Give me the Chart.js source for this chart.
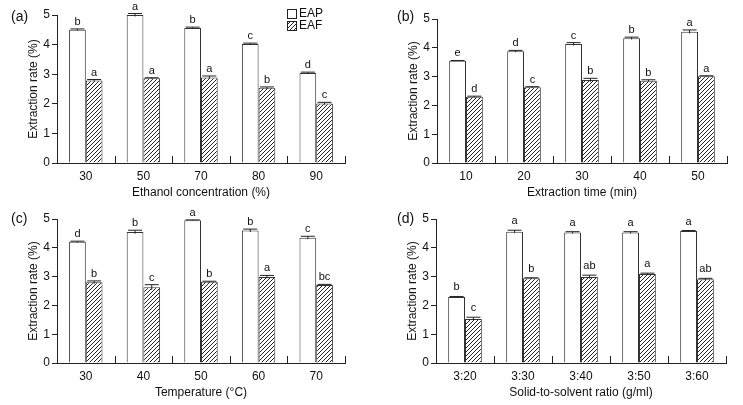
<!DOCTYPE html>
<html>
<head>
<meta charset="utf-8" />
<title>Extraction rate panels</title>
<script src="https://cdn.jsdelivr.net/npm/chart.js"></script>
<style>
  body { margin: 0; background: #fff; }
  #wrap { position: relative; width: 743px; height: 405px; font-family: "Liberation Sans", Arial, sans-serif; }
  #wrap canvas { position: absolute; }
  .tag { position: absolute; font-size: 14px; color: #111; line-height: 14px; }
</style>
</head>
<body>
<div id="wrap">
  <canvas id="pa" width="370" height="200" style="left:0;top:0"></canvas>
  <canvas id="pb" width="373" height="200" style="left:370px;top:0"></canvas>
  <canvas id="pc" width="370" height="205" style="left:0;top:200px"></canvas>
  <canvas id="pd" width="373" height="205" style="left:370px;top:200px"></canvas>
  <div class="tag" style="left:11px;top:9px">(a)</div>
  <div class="tag" style="left:397px;top:9px">(b)</div>
  <div class="tag" style="left:11px;top:211px">(c)</div>
  <div class="tag" style="left:397px;top:211px">(d)</div>
</div>
<script>
// (a) ethanol concentration
const catsA = ["30", "50", "70", "80", "90"];
const eapA = [4.50, 5.00, 4.56, 4.02, 3.04];
const eafA = [2.79, 2.86, 2.89, 2.54, 2.01];
const eapErrA = [0.03, 0.05, 0.03, 0.03, 0.03];
const eafErrA = [0.03, 0.02, 0.05, 0.03, 0.04];
const eapLetA = ["b", "a", "b", "c", "d"];
const eafLetA = ["a", "a", "a", "b", "c"];

// (b) extraction time
const catsB = ["10", "20", "30", "40", "50"];
const eapB = [3.55, 3.88, 4.13, 4.33, 4.56];
const eafB = [2.30, 2.63, 2.88, 2.86, 3.01];
const eapErrB = [0.01, 0.03, 0.05, 0.04, 0.06];
const eafErrB = [0.02, 0.02, 0.06, 0.03, 0.02];
const eapLetB = ["e", "d", "c", "b", "a"];
const eafLetB = ["d", "c", "b", "b", "a"];

// (c) temperature
const catsC = ["30", "40", "50", "60", "70"];
const eapC = [4.21, 4.55, 4.96, 4.60, 4.35];
const eafC = [2.80, 2.63, 2.82, 2.99, 2.71];
const eapErrC = [0.02, 0.06, 0.01, 0.05, 0.05];
const eafErrC = [0.05, 0.09, 0.02, 0.05, 0.02];
const eapLetC = ["d", "b", "a", "b", "c"];
const eafLetC = ["b", "c", "b", "a", "bc"];

// (d) solid-to-solvent ratio
const catsD = ["3:20", "3:30", "3:40", "3:50", "3:60"];
const eapD = [2.29, 4.56, 4.53, 4.53, 4.58];
const eafD = [1.53, 2.94, 2.99, 3.09, 2.91];
const eapErrD = [0.02, 0.05, 0.03, 0.03, 0.02];
const eafErrD = [0.06, 0.02, 0.06, 0.03, 0.03];
const eapLetD = ["b", "a", "a", "a", "a"];
const eafLetD = ["c", "b", "ab", "a", "ab"];

const yTicks = [0, 1, 2, 3, 4, 5];
const seriesNames = ["EAP", "EAF"];

const FONT = '"Liberation Sans", Arial, sans-serif';
const INK = "#111";

// hatch fill for EAF bars
function makeHatch() {
  const s = 4;
  const t = document.createElement("canvas");
  t.width = s; t.height = s;
  const g = t.getContext("2d");
  g.fillStyle = "#fff";
  g.fillRect(0, 0, s, s);
  g.strokeStyle = "#222";
  g.lineWidth = 1;
  g.beginPath();
  g.moveTo(-1, s + 1); g.lineTo(s + 1, -1);
  g.moveTo(-1, 1); g.lineTo(1, -1);
  g.moveTo(s - 1, s + 1); g.lineTo(s + 1, s - 1);
  g.stroke();
  return g.createPattern(t, "repeat");
}
const hatch = makeHatch();

// error bars + significance letters
const marksPlugin = {
  id: "marks",
  afterDatasetsDraw(chart) {
    const ctx = chart.ctx;
    const ys = chart.scales.y;
    const o = chart.options.plugins.marks;
    ctx.save();
    chart.data.datasets.forEach((ds, di) => {
      const meta = chart.getDatasetMeta(di);
      meta.data.forEach((bar, i) => {
        const v = ds.data[i], e = o.err[di][i];
        const yt = ys.getPixelForValue(v + e);
        const yb = ys.getPixelForValue(v - e);
        ctx.strokeStyle = "#222";
        ctx.lineWidth = 1;
        ctx.beginPath();
        ctx.moveTo(bar.x, yt); ctx.lineTo(bar.x, yb);
        ctx.moveTo(bar.x - 7, yt); ctx.lineTo(bar.x + 7, yt);
        ctx.stroke();
        ctx.fillStyle = INK;
        ctx.font = "11px " + FONT;
        ctx.textAlign = "center";
        ctx.textBaseline = "alphabetic";
        ctx.fillText(o.letters[di][i], bar.x, yt - o.gap);
      });
    });
    ctx.restore();
  }
};

// upward tick marks between categories on the x axis
const xTickPlugin = {
  id: "xticks",
  afterDraw(chart) {
    const xs = chart.scales.x, ctx = chart.ctx;
    const n = chart.data.labels.length;
    const half = (xs.getPixelForValue(1) - xs.getPixelForValue(0)) / 2;
    const y0 = chart.chartArea.bottom;
    ctx.save();
    ctx.strokeStyle = "#222";
    ctx.lineWidth = 1;
    ctx.beginPath();
    for (let i = 0; i < n; i++) {
      const x = Math.round(xs.getPixelForValue(i) + half) + 0.5;
      ctx.moveTo(x, y0); ctx.lineTo(x, y0 - 7);
    }
    ctx.stroke();
    ctx.restore();
  }
};

// legend drawn only in panel (a)
const legendPlugin = {
  id: "boxlegend",
  afterDraw(chart) {
    const o = chart.options.plugins.boxlegend;
    if (!o.show) return;
    const ctx = chart.ctx;
    const x = chart.chartArea.right - 58;
    ctx.save();
    chart.data.datasets.forEach((ds, i) => {
      const y = chart.chartArea.top - 6 + i * 12;
      ctx.fillStyle = ds.backgroundColor;
      ctx.fillRect(x, y, 9, 9);
      ctx.strokeStyle = "#222";
      ctx.lineWidth = 1;
      ctx.strokeRect(x + 0.5, y + 0.5, 9, 9);
      ctx.fillStyle = INK;
      ctx.font = "12px " + FONT;
      ctx.textAlign = "left";
      ctx.textBaseline = "middle";
      ctx.fillText(ds.label, x + 12, y + 5);
    });
    ctx.restore();
  }
};

function panel(id, cats, eap, eaf, eapErr, eafErr, eapLet, eafLet, xTitle, g) {
  return new Chart(document.getElementById(id), {
    type: "bar",
    data: {
      labels: cats,
      datasets: [
        { label: seriesNames[0], data: eap, backgroundColor: "#fff", borderColor: "#333", borderWidth: 1 },
        { label: seriesNames[1], data: eaf, backgroundColor: hatch, borderColor: "#333", borderWidth: 1 }
      ]
    },
    plugins: [marksPlugin, xTickPlugin, legendPlugin],
    options: {
      responsive: false,
      animation: false,
      devicePixelRatio: 1,
      layout: { padding: { top: g.top, right: g.right, left: 0, bottom: 0 } },
      datasets: { bar: { categoryPercentage: 0.58, barPercentage: 1.0 } },
      scales: {
        x: {
          grid: { display: false, drawTicks: false },
          border: { display: true, color: "#222", width: 1 },
          ticks: { color: INK, font: { family: FONT, size: 12 }, padding: 6, maxRotation: 0 },
          title: { display: true, text: xTitle, color: INK, font: { family: FONT, size: 12 }, padding: { top: 0, bottom: g.xtPad } },
          afterFit(s) { s.height = g.xh; }
        },
        y: {
          min: 0, max: 5,
          afterBuildTicks(s) { s.ticks = yTicks.map(v => ({ value: v })); },
          grid: { display: true, drawOnChartArea: false, drawTicks: true, tickLength: 5, color: "#222" },
          border: { display: true, color: "#222", width: 1 },
          ticks: { color: INK, font: { family: FONT, size: 12 }, padding: 2 },
          title: { display: true, text: "Extraction rate (%)", color: INK, font: { family: FONT, size: 12 }, padding: { top: g.ytPad, bottom: 0 } },
          afterFit(s) { s.width = g.axisX; }
        }
      },
      plugins: {
        legend: { display: false },
        tooltip: { enabled: false },
        marks: { err: [eapErr, eafErr], letters: [eapLet, eafLet], gap: g.gap },
        boxlegend: { show: g.legend }
      }
    }
  });
}

panel("pa", catsA, eapA, eafA, eapErrA, eafErrA, eapLetA, eafLetA, "Ethanol concentration (%)",
  { axisX: 57, top: 15, right: 25, xh: 37, xtPad: 0, ytPad: 26, gap: 4, legend: true });
panel("pb", catsB, eapB, eafB, eapErrB, eafErrB, eapLetB, eafLetB, "Extraction time (min)",
  { axisX: 67, top: 19, right: 16, xh: 37, xtPad: 0, ytPad: 36, gap: 4, legend: false });
panel("pc", catsC, eapC, eafC, eapErrC, eafErrC, eapLetC, eafLetC, "Temperature (\u00B0C)",
  { axisX: 57, top: 19, right: 25, xh: 42, xtPad: 5, ytPad: 26, gap: 4, legend: false });
panel("pd", catsD, eapD, eafD, eapErrD, eafErrD, eapLetD, eafLetD, "Solid-to-solvent ratio (g/ml)",
  { axisX: 66, top: 19, right: 17, xh: 42, xtPad: 5, ytPad: 35, gap: 6, legend: false });
</script>
</body>
</html>
